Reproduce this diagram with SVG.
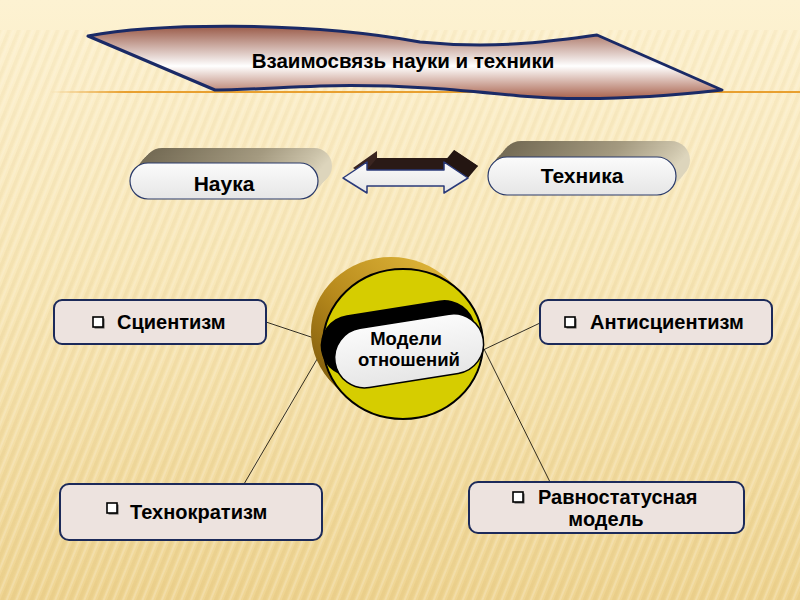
<svg xmlns="http://www.w3.org/2000/svg" xmlns:xlink="http://www.w3.org/1999/xlink" width="800" height="600" viewBox="0 0 800 600">
<style>
  text { font-family: "Liberation Sans", Arial, sans-serif; font-weight: bold; fill: #000; }
  .box { fill: #ede3df; stroke: #1c2a5a; stroke-width: 2; }
  .conn { stroke: #000; stroke-width: 0.8; fill: none; }
  .pill { fill: url(#pillFill); stroke: #2a3a6a; stroke-width: 1.2; }
  .lbl { font-size: 20px; }
</style>
<defs>
  <linearGradient id="bg" x1="0" y1="0" x2="0" y2="1">
    <stop offset="0" stop-color="#fdf2d2"/>
    <stop offset="0.5" stop-color="#f8e7b8"/>
    <stop offset="1" stop-color="#efd593"/>
  </linearGradient>
  <pattern id="stripes" width="9" height="9" patternUnits="userSpaceOnUse" patternTransform="rotate(22)">
    <rect x="0" y="0" width="3.5" height="9" fill="#c9a24a" fill-opacity="0.13"/>
    <rect x="5" y="0" width="2" height="9" fill="#ffffff" fill-opacity="0.18"/>
  </pattern>
  <linearGradient id="stripeFade" x1="0" y1="0" x2="0" y2="1">
    <stop offset="0" stop-color="#fff" stop-opacity="0"/>
    <stop offset="0.06" stop-color="#fff" stop-opacity="0.6"/>
    <stop offset="1" stop-color="#fff" stop-opacity="1"/>
  </linearGradient>
  <mask id="stripeMask">
    <rect x="0" y="0" width="800" height="600" fill="url(#stripeFade)"/>
  </mask>
  <linearGradient id="banner" x1="0" y1="0" x2="0" y2="1">
    <stop offset="0" stop-color="#9a5a48"/>
    <stop offset="0.55" stop-color="#ffffff"/>
    <stop offset="1" stop-color="#a8614c"/>
  </linearGradient>
  <linearGradient id="orangeLine" x1="0" y1="0" x2="1" y2="0">
    <stop offset="0" stop-color="#e8a030" stop-opacity="0"/>
    <stop offset="0.1" stop-color="#e8a030" stop-opacity="1"/>
    <stop offset="1" stop-color="#e8a030"/>
  </linearGradient>
  <linearGradient id="pillFill" x1="0" y1="0" x2="0" y2="1">
    <stop offset="0" stop-color="#fbfbfb"/>
    <stop offset="1" stop-color="#e6e6e6"/>
  </linearGradient>
  <linearGradient id="ext" x1="0" y1="0" x2="1" y2="0.3">
    <stop offset="0" stop-color="#6f6650"/>
    <stop offset="0.6" stop-color="#a49a80"/>
    <stop offset="1" stop-color="#ddd5bc"/>
  </linearGradient>
  <linearGradient id="discSide" x1="0" y1="1" x2="1" y2="0">
    <stop offset="0" stop-color="#6e4e08"/>
    <stop offset="0.45" stop-color="#b88a1c"/>
    <stop offset="1" stop-color="#e8c040"/>
  </linearGradient>
  <rect id="naukaShape" x="130" y="163" width="188" height="36" rx="18"/>
  <rect id="technShape" x="488" y="157" width="188" height="38" rx="19"/>
  <ellipse id="discShape" cx="403" cy="344" rx="80" ry="75"/>
  <g id="bullet">
    <rect x="1.5" y="1.5" width="10" height="10" fill="#555"/>
    <rect x="0" y="0" width="10" height="10" fill="#fff" stroke="#000" stroke-width="1.6"/>
  </g>
</defs>

<!-- background -->
<rect x="0" y="0" width="800" height="600" fill="url(#bg)"/>
<rect x="0" y="30" width="800" height="570" fill="url(#stripes)" mask="url(#stripeMask)"/>
<rect x="50" y="91" width="750" height="2" fill="url(#orangeLine)"/>

<!-- title banner -->
<g id="title">
  <path d="M88,36 C150,24 300,20 420,42 C500,50 560,40 597,35 L722,90 C660,97 590,102 520,96 C460,90 400,84 320,86 C270,88 240,90 215,90 Z" fill="url(#banner)" stroke="#1a2a66" stroke-width="3" stroke-linejoin="round"/>
  <text x="403" y="68" font-size="20.5" text-anchor="middle">Взаимосвязь науки и техники</text>
</g>

<!-- Наука -->
<g id="nauka">
  <use xlink:href="#naukaShape" x="14" y="-15" fill="url(#ext)"/>
  <use xlink:href="#naukaShape" x="12" y="-13" fill="url(#ext)"/>
  <use xlink:href="#naukaShape" x="10" y="-11" fill="url(#ext)"/>
  <use xlink:href="#naukaShape" x="8" y="-9" fill="url(#ext)"/>
  <use xlink:href="#naukaShape" x="6" y="-6" fill="url(#ext)"/>
  <use xlink:href="#naukaShape" x="4" y="-4" fill="url(#ext)"/>
  <use xlink:href="#naukaShape" x="2" y="-2" fill="url(#ext)"/>
  <use xlink:href="#naukaShape" class="pill"/>
  <text x="224" y="191" font-size="21" text-anchor="middle">Наука</text>
</g>

<!-- Техника -->
<g id="technika">
  <use xlink:href="#technShape" x="14" y="-16" fill="url(#ext)"/>
  <use xlink:href="#technShape" x="12" y="-14" fill="url(#ext)"/>
  <use xlink:href="#technShape" x="10" y="-11" fill="url(#ext)"/>
  <use xlink:href="#technShape" x="8" y="-9" fill="url(#ext)"/>
  <use xlink:href="#technShape" x="6" y="-7" fill="url(#ext)"/>
  <use xlink:href="#technShape" x="4" y="-5" fill="url(#ext)"/>
  <use xlink:href="#technShape" x="2" y="-2" fill="url(#ext)"/>
  <use xlink:href="#technShape" class="pill"/>
  <text x="582" y="183" font-size="21" text-anchor="middle">Техника</text>
</g>

<!-- double arrow -->
<g id="arrow">
  <path d="M353,168 L377,151 L377,158 L454,158 L454,150 L478,166 L454,183 L454,176 L377,176 L377,183 Z" fill="#3a2520"/>
  <path d="M367,170 L377,158 L454,158 L444,170 Z" fill="#2a1a16"/>
  <path d="M444,162 L454,150 L478,166 L468,178 Z" fill="#241612"/>
  <path d="M343,178 L367,162 L367,170 L444,170 L444,162 L468,178 L444,193 L444,186 L367,186 L367,193 Z" fill="url(#pillFill)" stroke="#2a3a7a" stroke-width="1.5" stroke-linejoin="round"/>
</g>

<!-- connectors -->
<g id="connectors">
  <line class="conn" x1="266" y1="322" x2="323" y2="341"/>
  <line class="conn" x1="540" y1="323" x2="483" y2="350"/>
  <line class="conn" x1="244" y1="484" x2="323" y2="349"/>
  <line class="conn" x1="550" y1="482" x2="484" y2="349"/>
</g>

<!-- central disc -->
<g id="models">
  <use xlink:href="#discShape" x="-12" y="-12" fill="url(#discSide)"/>
  <use xlink:href="#discShape" x="-10" y="-10" fill="url(#discSide)"/>
  <use xlink:href="#discShape" x="-8" y="-8" fill="url(#discSide)"/>
  <use xlink:href="#discShape" x="-6" y="-6" fill="url(#discSide)"/>
  <use xlink:href="#discShape" x="-4" y="-4" fill="url(#discSide)"/>
  <use xlink:href="#discShape" x="-2" y="-2" fill="url(#discSide)"/>
  <use xlink:href="#discShape" fill="#d6cd00" stroke="#000" stroke-width="2"/>
  <g transform="rotate(-9 408 350)">
    <rect x="322" y="306" width="156" height="62" rx="31" fill="#000"/>
    <rect x="334" y="321" width="150" height="60" rx="30" fill="url(#pillFill)" stroke="#000" stroke-width="1.5"/>
  </g>
  <text x="406" y="345" font-size="18.5" text-anchor="middle">Модели</text>
  <text x="409" y="366" font-size="18.5" text-anchor="middle">отношений</text>
</g>

<!-- boxes -->
<g id="scientism">
  <rect class="box" x="54" y="300" width="212" height="44" rx="8"/>
  <use xlink:href="#bullet" x="93" y="317"/>
  <text class="lbl" x="117" y="329">Сциентизм</text>
</g>
<g id="antiscientism">
  <rect class="box" x="540" y="300" width="232" height="44" rx="8"/>
  <use xlink:href="#bullet" x="565" y="317"/>
  <text class="lbl" x="590" y="329">Антисциентизм</text>
</g>
<g id="technocratism">
  <rect class="box" x="60" y="484" width="262" height="56" rx="9"/>
  <use xlink:href="#bullet" x="107" y="503"/>
  <text class="lbl" x="130" y="519">Технократизм</text>
</g>
<g id="equal">
  <rect class="box" x="469" y="482" width="275" height="51" rx="9"/>
  <use xlink:href="#bullet" x="513" y="492"/>
  <text class="lbl" x="538" y="504">Равностатусная</text>
  <text class="lbl" x="606" y="526" text-anchor="middle">модель</text>
</g>
</svg>
